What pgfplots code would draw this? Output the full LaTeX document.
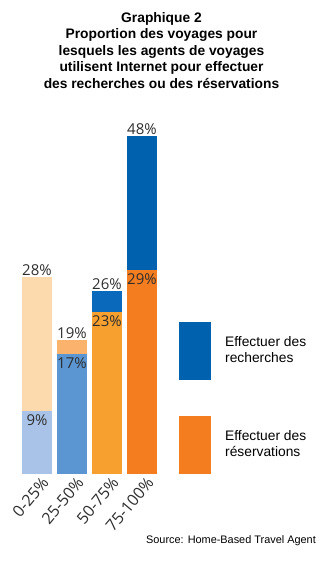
\documentclass[border=0pt]{standalone}
\usepackage{pgfplots}
\pgfplotsset{compat=1.18}
\usepackage{fontspec}
\setmainfont{Liberation Sans}
\newfontfamily\labfont{Open Sans}
\definecolor{txt}{HTML}{2E2E2E}
\definecolor{oA}{HTML}{FDD9AE}
\definecolor{bA}{HTML}{A8C3E7}
\definecolor{oB}{HTML}{FAB26C}
\definecolor{bB}{HTML}{5B96D2}
\definecolor{bC}{HTML}{0A69BB}
\definecolor{oC}{HTML}{F8A02F}
\definecolor{bD}{HTML}{0061AF}
\definecolor{oD}{HTML}{F47D20}
\begin{document}
\begin{tikzpicture}
\useasboundingbox (0,0) rectangle (323pt,561pt);
\node[align=center, anchor=north, inner sep=0pt, font=\bfseries\fontsize{13.8}{16.5}\selectfont] at (161.5pt,549pt)
  {Graphique 2\\Proportion des voyages pour\\lesquels les agents de voyages\\utilisent Internet pour effectuer\\des recherches ou des réservations};
\node[anchor=base east, inner sep=0pt, font=\fontsize{10.9}{12}\selectfont] at (316pt,17pt) {Source: Home-Based Travel Agent};
\begin{axis}[
  at={(19.5pt,87pt)}, anchor=south west,
  scale only axis, width=140pt, height=352pt,
  xmin=-0.5, xmax=3.5, ymin=0, ymax=50,
  clip=false,
  /pgf/number format/assume math mode=true,
  axis line style={draw=none}, tick style={draw=none},
  ytick=\empty,
  xtick={0,1,2,3},
  xticklabels={0-25\%,25-50\%,50-75\%,75-100\%},
  x tick label style={rotate=50, anchor=north east, font=\labfont\fontsize{16}{17}\selectfont, text=txt, inner sep=1pt, xshift=2pt, yshift=-3pt},
  bk/.style={ybar, bar width=30pt, bar shift=0pt, draw=none, forget plot,
    nodes near coords={\pgfmathprintnumber{\pgfplotspointmeta}\%},
    every node near coord/.append style={anchor=south, inner sep=1.5pt, font=\labfont\fontsize{15}{16}\selectfont, text=txt}},
  fr/.style={ybar, bar width=30pt, bar shift=0pt, draw=none, forget plot,
    nodes near coords={\pgfmathprintnumber{\pgfplotspointmeta}\%},
    every node near coord/.append style={anchor=north, inner sep=1.5pt, yshift=-2pt, font=\labfont\fontsize{15}{16}\selectfont, text=txt}},
  legend style={at={(axis cs:4.057,21.6)}, anchor=north west, draw=none, fill=none,
    inner sep=0pt, row sep=36pt, font=\fontsize{13.8}{15.5}\selectfont,
    cells={anchor=west, align=left}, nodes={inner xsep=14pt}},
  legend image code/.code={\fill[#1] (0pt,-30pt) rectangle (32pt,28pt);},
]
% back bars (taller)
\addplot[bk, fill=oA] coordinates {(0,28)};
\addplot[bk, fill=oB] coordinates {(1,19)};
\addplot[bk, fill=bC] coordinates {(2,26)};
\addplot[bk, fill=bD] coordinates {(3,48)};
% front bars (shorter)
\addplot[fr, fill=bA] coordinates {(0,9)};
\addplot[fr, fill=bB] coordinates {(1,17)};
\addplot[fr, fill=oC] coordinates {(2,23)};
\addplot[fr, fill=oD] coordinates {(3,29)};
\addlegendimage{fill=bD, draw=none}
\addlegendentry{Effectuer des\\recherches}
\addlegendimage{fill=oD, draw=none}
\addlegendentry{Effectuer des\\réservations}
\end{axis}
\end{tikzpicture}
\end{document}
